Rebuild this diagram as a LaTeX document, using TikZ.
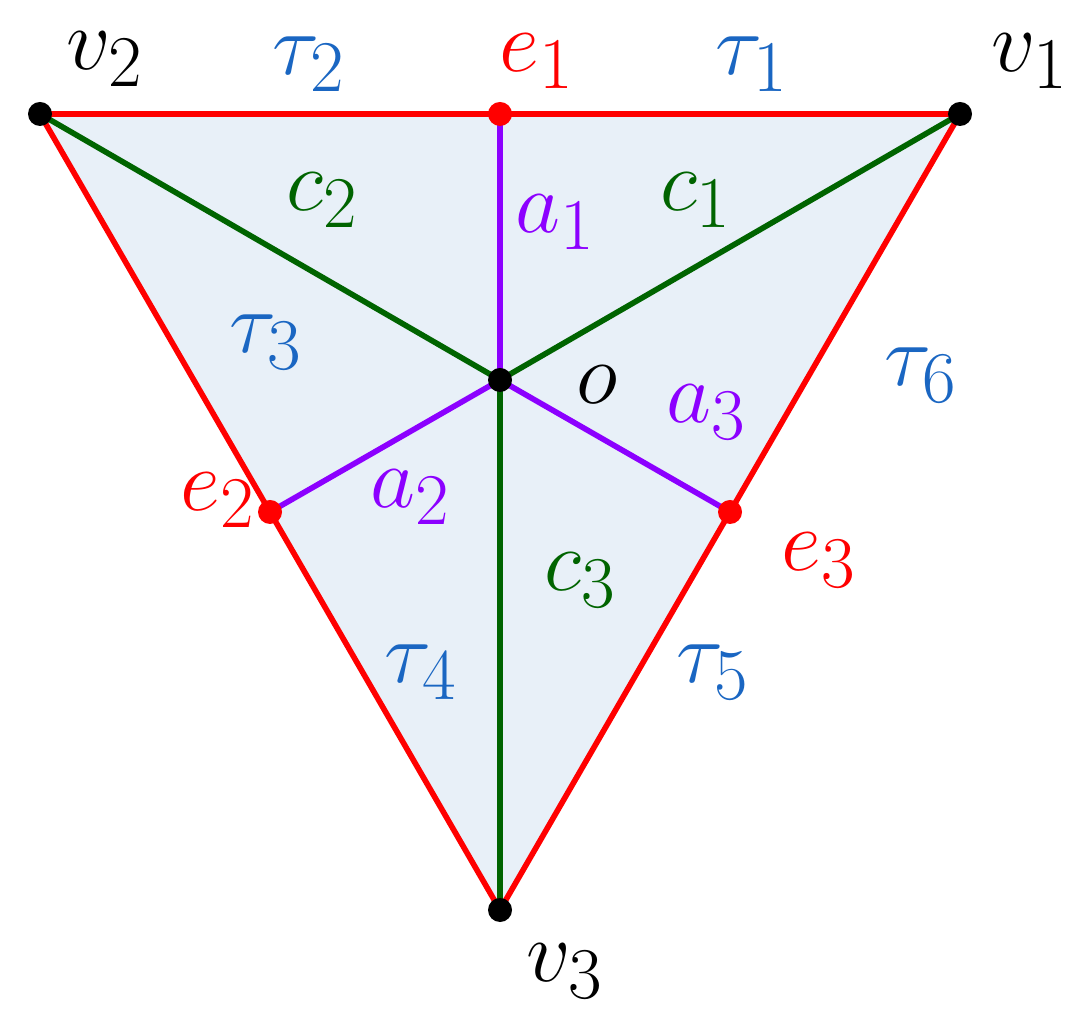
\documentclass[tikz,border=0pt]{standalone}
\usepackage{amsmath}
\definecolor{trired}{HTML}{FF0000}
\definecolor{trigreen}{HTML}{006400}
\definecolor{tripurple}{HTML}{8C00FF}
\definecolor{triblue}{HTML}{1A66C2}
\definecolor{trifill}{HTML}{E8F0F8}
\usetikzlibrary{positioning}

\begin{document}
\begin{tikzpicture}[
  lbl/.style={font=\fontsize{29.5}{32}\selectfont,inner sep=0pt},
  pt/.style={circle,fill,inner sep=0pt,minimum size=2.4mm},
  side/.style={trired,line width=1.6pt},
  spoke/.style={trigreen,line width=1.6pt},
  mid/.style={tripurple,line width=1.6pt}]
  \useasboundingbox (0,0) rectangle (10.75,10.11);
  % vertices, centre and edge midpoints
  \coordinate (v1) at (9.60,8.97);
  \coordinate (v2) at (0.40,8.97);
  \coordinate (v3) at (5.00,1.01);
  \coordinate (o) at (5.00,6.31);
  \coordinate (e1) at (5.00,8.97);
  \coordinate (e2) at (2.70,4.99);
  \coordinate (e3) at (7.30,4.99);
  \fill[trifill] (v1) -- (v2) -- (v3) -- cycle;
  \draw[side] (v1) -- (v2) -- (v3) -- cycle;
  \draw[spoke] (o) -- (v1) (o) -- (v2) (o) -- (v3);
  \draw[mid] (o) -- (e1) (o) -- (e2) (o) -- (e3);
  \node[pt] at (v1) {};
  \node[pt] at (v2) {};
  \node[pt] at (v3) {};
  \node[pt] at (o) {};
  \node[pt,trired] at (e1) {};
  \node[pt,trired] at (e2) {};
  \node[pt,trired] at (e3) {};
  % labels
  \node[lbl] (lv2) at (1.05,9.52) {$v_2$};
  \node[lbl] (lv1) at (10.30,9.50) {$v_1$};
  \node[lbl] (lv3) at (5.65,0.40) {$v_3$};
  \node[lbl] (lo) at (5.97,6.26) {$o$};
  \node[lbl,trired] (le1) at (5.37,9.50) {$e_1$};
  \node[lbl,trired] (le2) at (2.18,5.11) {$e_2$};
  \node[lbl,trired] (le3) at (8.19,4.51) {$e_3$};
  \node[lbl,triblue] (lt1) at (7.52,9.47) {$\tau_1$};
  \node[lbl,triblue] (lt2) at (3.09,9.47) {$\tau_2$};
  \node[lbl,triblue] (lt3) at (2.66,6.69) {$\tau_3$};
  \node[lbl,triblue] (lt4) at (4.21,3.39) {$\tau_4$};
  \node[lbl,triblue] (lt5) at (7.13,3.39) {$\tau_5$};
  \node[lbl,triblue] (lt6) at (9.21,6.36) {$\tau_6$};
  \node[lbl,trigreen] (lc1) at (6.96,8.11) {$c_1$};
  \node[lbl,trigreen] (lc2) at (3.23,8.11) {$c_2$};
  \node[lbl,trigreen] (lc3) at (5.81,4.31) {$c_3$};
  \node[lbl,tripurple] (la1) at (5.56,7.89) {$a_1$};
  \node[lbl,tripurple] (la2) at (4.11,5.14) {$a_2$};
  \node[lbl,tripurple] (la3) at (7.07,5.99) {$a_3$};
\end{tikzpicture}
\end{document}
